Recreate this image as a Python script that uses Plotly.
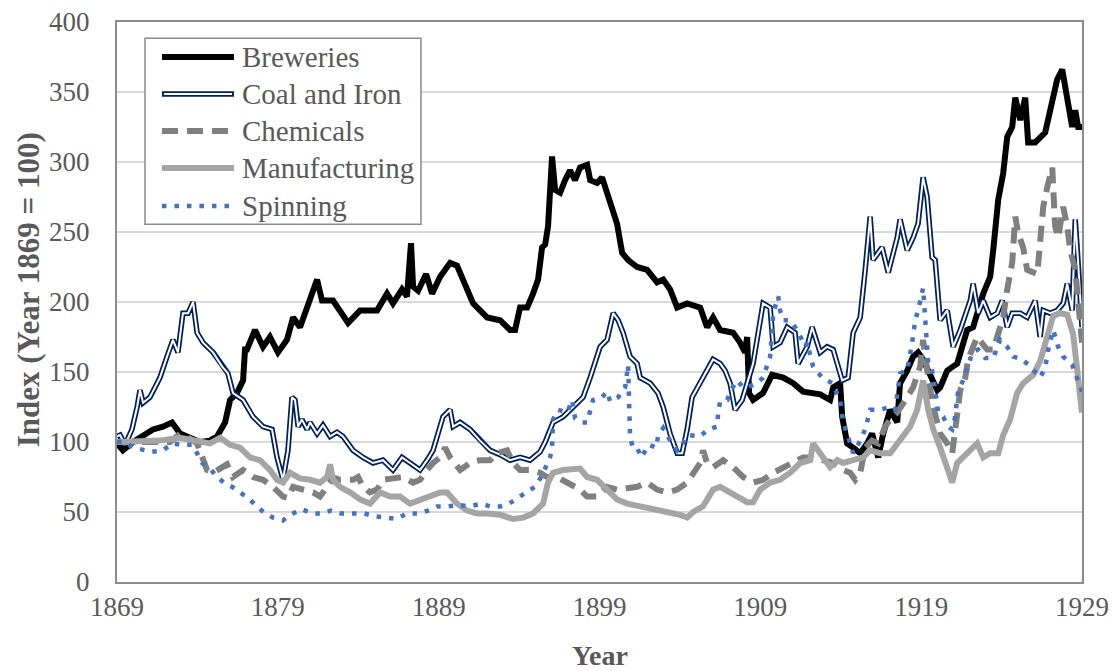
import plotly.graph_objects as go

# ---------------- data ----------------
series_names = ["Breweries", "Coal and Iron", "Chemicals", "Manufacturing", "Spinning"]

brew_years = [1869.00,1869.37,1870.00,1870.62,1871.24,1871.86,1872.42,1872.92,1873.54,1874.16,
              1874.78,1875.22,1875.72,1876.03,1876.46,1876.84,1876.96,1877.08,1877.58,1878.08,
              1878.51,1879.01,1879.57,1879.95,1880.38,1880.82,1881.44,1881.75,1882.43,1883.37,
              1884.11,1885.17,1885.79,1886.16,1886.72,1887.03,1887.28,1887.41,1887.72,1888.22,
              1888.59,1889.09,1889.71,1890.14,1890.77,1891.14,1892.01,1892.82,1893.44,1893.75,
              1894.06,1894.50,1894.87,1895.18,1895.43,1895.62,1895.80,1896.05,1896.24,1896.55,
              1896.86,1897.17,1897.48,1897.79,1898.23,1898.42,1898.85,1899.16,1899.47,1899.78,
              1900.09,1900.41,1900.78,1901.34,1901.96,1902.58,1902.96,1903.39,1903.83,1904.45,
              1905.26,1905.69,1906.06,1906.50,1907.31,1907.74,1908.05,1908.18,1908.30,1908.55,
              1909.17,1909.73,1910.42,1911.04,1911.66,1912.72,1913.34,1913.53,1913.96,1914.09,
              1914.40,1914.77,1915.21,1915.64,1915.95,1916.33,1916.64,1917.07,1917.51,1917.69,
              1918.13,1918.50,1918.81,1919.12,1919.44,1919.75,1920.00,1920.18,1920.62,1920.99,
              1921.24,1921.86,1922.23,1922.86,1923.29,1923.48,1923.79,1924.10,1924.35,1924.66,
              1924.85,1925.16,1925.47,1925.65,1926.09,1926.71,1927.15,1927.46,1927.77,1928.14,
              1928.39,1928.58,1928.76,1929.00]
brew_vals = [99,94,100,105,109,111,114,106,103,100,
             101,104,114,130,135,144,166,166,180,168,
             175,164,173,189,182,196,216,201,201,185,
             194,194,206,199,209,204,242,211,208,220,
             206,218,228,226,208,199,189,187,180,180,
             196,196,206,216,239,241,254,304,280,278,
             287,294,287,296,298,287,285,289,278,266,
             256,235,230,225,223,214,216,209,196,199,
             196,182,189,180,178,171,164,175,135,130,
             135,148,146,142,136,134,130,139,142,118,
             99,96,92,99,106,89,106,123,114,142,
             151,161,164,159,151,144,137,139,151,154,
             156,180,182,206,218,237,273,292,318,325,
             346,330,346,314,314,321,344,359,366,344,
             325,337,325,325]

coal_years = [1869.00,1869.19,1869.50,1869.93,1870.25,1870.43,1870.62,1871.05,1871.36,1871.67,
              1872.11,1872.48,1872.79,1873.10,1873.42,1873.73,1873.98,1874.35,1874.97,1875.53,
              1875.90,1876.21,1876.84,1877.46,1878.08,1878.64,1878.95,1879.32,1879.63,1879.88,
              1880.07,1880.26,1880.50,1880.82,1881.00,1881.44,1881.81,1882.25,1882.68,1883.05,
              1883.68,1884.30,1884.92,1885.54,1886.16,1886.72,1887.22,1887.84,1888.28,1888.65,
              1889.27,1889.71,1889.90,1890.33,1890.95,1891.57,1892.20,1892.82,1893.44,1894.06,
              1894.68,1895.31,1895.62,1896.11,1896.74,1897.36,1897.98,1898.42,1898.85,1899.04,
              1899.47,1899.85,1900.16,1900.47,1900.90,1901.34,1901.53,1902.15,1902.64,1902.96,
              1903.39,1903.83,1904.14,1904.45,1904.76,1905.26,1905.69,1906.06,1906.50,1906.81,
              1907.12,1907.43,1907.87,1908.18,1908.55,1909.17,1909.61,1909.80,1910.23,1910.67,
              1911.16,1911.35,1911.91,1912.22,1912.72,1913.15,1913.53,1914.09,1914.46,1914.77,
              1915.21,1915.52,1915.83,1916.01,1916.57,1916.95,1917.51,1917.69,1918.13,1918.50,
              1918.81,1919.12,1919.37,1919.68,1919.87,1920.18,1920.62,1920.99,1921.43,1922.05,
              1922.23,1922.55,1922.86,1923.29,1923.73,1924.04,1924.35,1924.66,1925.16,1925.59,
              1926.09,1926.40,1926.59,1927.02,1927.46,1927.83,1928.08,1928.39,1928.58,1928.76,
              1929.00]
coal_vals = [104,105,98,109,125,137,128,132,139,146,
             161,173,164,192,192,200,178,171,164,154,
             149,135,130,118,111,109,89,73,94,132,
             130,111,116,109,114,106,112,104,107,104,
             94,89,85,87,80,89,85,80,87,94,
             118,123,111,114,109,101,94,91,87,89,
             87,93,100,114,118,125,132,146,161,168,
             173,192,187,178,161,156,146,142,135,125,
             106,92,92,109,132,142,151,159,156,151,
             142,123,130,142,156,199,196,168,171,182,
             178,156,168,182,164,168,166,144,146,178,
             189,223,261,230,239,221,246,259,237,246,
             256,289,275,232,230,187,194,168,180,201,
             213,192,201,189,192,201,182,192,192,189,
             201,175,194,192,194,199,213,194,259,228,
             182]

chem_years = [1869.00,1870.43,1871.67,1872.30,1872.92,1873.35,1873.98,1874.35,1874.60,1874.97,
              1875.84,1876.21,1876.84,1877.46,1878.08,1878.70,1879.32,1879.63,1879.95,1880.57,
              1881.19,1881.62,1882.25,1882.37,1882.87,1883.68,1883.99,1884.30,1884.73,1885.17,
              1885.54,1886.16,1886.79,1887.41,1887.84,1888.28,1888.65,1889.09,1889.40,1889.71,
              1890.33,1890.95,1891.57,1892.20,1892.63,1893.25,1893.63,1894.06,1894.68,1895.31,
              1895.74,1896.36,1896.99,1897.79,1898.23,1898.85,1899.47,1900.09,1900.72,1901.34,
              1901.96,1902.58,1903.20,1903.83,1904.45,1904.82,1905.26,1905.44,1905.69,1906.06,
              1906.69,1907.31,1907.93,1908.55,1909.17,1909.80,1910.42,1911.04,1911.66,1912.28,
              1912.91,1913.53,1914.15,1914.58,1914.90,1915.21,1915.52,1915.95,1916.33,1916.76,
              1917.07,1917.51,1918.13,1918.50,1918.94,1919.12,1919.44,1919.75,1920.18,1920.62,
              1920.93,1921.11,1921.43,1921.74,1921.92,1922.48,1923.10,1923.48,1924.10,1924.35,
              1924.66,1924.85,1925.03,1925.34,1925.59,1926.22,1926.40,1926.59,1926.84,1927.15,
              1927.21,1927.33,1927.52,1927.83,1928.08,1928.27,1928.58,1928.89,1929.00]
chem_vals = [100,100,101,100,106,104,99,89,80,78,
             84,75,80,75,73,68,61,60,68,66,
             64,61,71,75,73,73,75,68,64,66,
             73,74,75,71,73,80,85,89,96,89,
             80,85,87,87,92,94,85,80,80,78,
             75,75,71,66,61,61,68,66,67,68,
             71,66,64,66,71,78,85,94,85,82,
             87,82,75,71,73,78,82,85,89,89,
             87,85,80,78,73,78,96,101,99,111,
             116,121,132,139,154,173,146,125,106,99,
             92,109,137,146,159,175,166,166,189,209,
             228,261,249,239,223,220,239,268,282,296,
             282,254,246,268,254,237,223,190,171]

manu_years = [1869.00,1870.43,1871.67,1872.92,1874.16,1874.78,1875.41,1876.03,1876.65,1877.27,
              1877.89,1878.51,1878.95,1879.32,1879.76,1880.38,1881.00,1881.62,1882.06,1882.25,
              1882.43,1882.87,1883.49,1884.11,1884.73,1885.36,1885.98,1886.60,1887.22,1887.84,
              1888.47,1889.09,1889.52,1890.14,1890.77,1891.39,1892.01,1892.82,1893.63,1894.25,
              1894.87,1895.31,1895.49,1895.80,1896.11,1896.74,1897.36,1897.79,1898.23,1898.85,
              1899.47,1900.09,1900.72,1901.53,1902.15,1902.77,1903.39,1904.01,1904.45,1904.82,
              1905.44,1906.06,1906.50,1907.12,1907.74,1908.18,1908.55,1908.99,1909.61,1910.23,
              1910.85,1911.48,1912.10,1912.28,1912.72,1913.34,1913.78,1914.15,1914.77,1915.39,
              1915.83,1916.45,1917.07,1917.69,1918.32,1918.75,1919.12,1919.44,1919.75,1920.18,
              1920.62,1920.93,1921.24,1921.61,1922.05,1922.48,1922.86,1923.29,1923.79,1924.10,
              1924.53,1924.97,1925.34,1925.97,1926.40,1926.84,1927.21,1927.64,1928.08,1928.45,
              1928.76,1929.00]
manu_vals = [100,100,101,103,101,99,103,98,96,89,
             87,80,73,71,78,74,73,71,75,84,
             73,68,64,59,56,64,61,61,56,59,
             61,64,64,56,51,49,49,48,45,46,
             49,54,56,71,78,80,80,81,75,73,
             66,59,56,54,53,51,49,48,46,50,
             54,66,68,64,61,57,57,66,71,73,
             78,85,87,99,92,82,87,85,87,89,
             94,92,92,101,111,123,144,123,109,96,
             82,71,85,89,94,99,89,92,92,105,
             116,135,142,148,158,176,190,192,191,177,
             148,121]

spin_years = [1869.00,1869.50,1870.00,1870.62,1871.18,1871.86,1872.42,1873.04,1873.66,1873.98,
              1874.29,1874.78,1875.22,1875.65,1876.15,1876.65,1877.15,1877.71,1878.20,1878.70,
              1879.32,1879.76,1880.50,1881.13,1881.75,1882.31,1882.93,1883.68,1884.36,1884.98,
              1885.73,1886.41,1887.03,1887.72,1888.34,1888.90,1889.58,1890.21,1890.95,1891.64,
              1892.20,1892.82,1893.38,1893.94,1894.50,1894.99,1895.37,1895.62,1895.93,1896.05,
              1896.08,1896.11,1896.42,1896.99,1897.30,1897.48,1897.92,1898.23,1898.60,1899.16,
              1899.47,1899.66,1900.16,1900.59,1900.78,1900.84,1900.90,1901.09,1901.34,1901.59,
              1901.84,1902.08,1902.52,1902.64,1902.96,1903.39,1903.83,1904.14,1904.51,1905.26,
              1905.75,1906.31,1906.38,1906.50,1906.94,1907.12,1907.56,1907.93,1908.18,1908.80,
              1909.17,1909.42,1909.61,1909.73,1909.80,1910.11,1910.23,1910.42,1910.85,1911.29,
              1911.48,1911.79,1911.91,1912.28,1912.84,1913.47,1913.96,1914.15,1914.40,1914.77,
              1915.08,1915.52,1915.83,1916.45,1917.07,1917.38,1917.69,1918.13,1918.44,1918.63,
              1918.81,1919.12,1919.44,1919.68,1919.87,1920.06,1920.37,1920.68,1920.93,1921.11,
              1921.30,1921.61,1921.92,1922.17,1922.55,1922.98,1923.48,1923.91,1924.35,1924.72,
              1925.28,1925.78,1926.40,1926.71,1926.90,1927.21,1927.52,1927.83,1928.39,1928.70,
              1928.89,1929.00]
spin_vals = [100,100,96,94,93,94,99,98,98,92,
             85,81,75,71,68,64,60,54,49,46,
             44,48,52,49,49,51,49,49,49,47,
             46,45,49,49,51,54,54,55,54,56,
             54,54,56,60,64,68,75,81,89,96,
             106,116,123,121,130,117,114,114,130,132,
             136,129,132,139,155,128,103,96,96,89,
             93,98,96,104,110,101,94,98,105,104,
             109,111,121,129,130,136,144,139,139,142,
             146,154,161,180,192,204,194,187,187,180,
             175,168,171,154,146,142,130,114,106,92,
             98,109,123,123,125,123,149,151,171,187,
             194,210,156,151,137,121,118,111,109,118,
             137,144,154,164,166,160,160,173,168,161,
             159,154,146,153,166,180,168,161,155,146,
             139,136]

x_ticks = [1869, 1879, 1889, 1899, 1909, 1919, 1929]
y_ticks = [0, 50, 100, 150, 200, 250, 300, 350, 400]

# ---------------- styling ----------------
FONT = "Liberation Serif, Times New Roman, serif"
TXT = "#595959"
NAVY = "#002060"
CHEM = "#808080"
MANU = "#A5A5A5"
SPIN = "#4472C4"

styles = {
    "Breweries": dict(color="#000000", width=6),
    "Coal and Iron": dict(color=NAVY, width=5.5),
    "Chemicals": dict(color=CHEM, width=6, dash="16px,9px"),
    "Manufacturing": dict(color=MANU, width=6),
    "Spinning": dict(color=SPIN, width=4.5, dash="4.5px,8px"),
}

fig = go.Figure()
fig.add_trace(go.Scatter(x=brew_years, y=brew_vals, mode="lines", name=series_names[0],
                         line=styles["Breweries"], showlegend=False))
fig.add_trace(go.Scatter(x=coal_years, y=coal_vals, mode="lines", name=series_names[1],
                         line=styles["Coal and Iron"], showlegend=False))
fig.add_trace(go.Scatter(x=coal_years, y=coal_vals, mode="lines", name=series_names[1] + " (inner)",
                         line=dict(color="#FFFFFF", width=2), showlegend=False, hoverinfo="skip"))
fig.add_trace(go.Scatter(x=chem_years, y=chem_vals, mode="lines", name=series_names[2],
                         line=styles["Chemicals"], showlegend=False))
fig.add_trace(go.Scatter(x=manu_years, y=manu_vals, mode="lines", name=series_names[3],
                         line=styles["Manufacturing"], showlegend=False))
fig.add_trace(go.Scatter(x=spin_years, y=spin_vals, mode="lines", name=series_names[4],
                         line=styles["Spinning"], showlegend=False))

# ---------------- custom legend (box, samples, labels) ----------------
shapes = [dict(type="rect", xref="paper", yref="paper", x0=0.029, x1=0.315, y0=0.639, y1=0.971,
               line=dict(color="#8C8C8C", width=1.5), fillcolor="#FFFFFF", layer="above")]
annotations = []
row_y = [0.9375, 0.8714, 0.8054, 0.7393, 0.6714]
sx0, sx1 = 0.0466, 0.1212
for name, yy in zip(series_names, row_y):
    shapes.append(dict(type="line", xref="paper", yref="paper", x0=sx0, x1=sx1, y0=yy, y1=yy,
                       line=styles[name], layer="above"))
    if name == "Coal and Iron":
        shapes.append(dict(type="line", xref="paper", yref="paper", x0=sx0 + 0.002, x1=sx1 - 0.002,
                           y0=yy, y1=yy, line=dict(color="#FFFFFF", width=2), layer="above"))
    annotations.append(dict(xref="paper", yref="paper", x=0.1275, y=yy, xanchor="left", yanchor="middle",
                            text=name, showarrow=False, font=dict(family=FONT, size=29, color=TXT)))

# axis titles
annotations.append(dict(xref="paper", yref="paper", x=0.5, y=-0.132, xanchor="center", yanchor="middle",
                        text="<b>Year</b>", showarrow=False, font=dict(family=FONT, size=28, color=TXT)))
annotations.append(dict(xref="paper", yref="paper", x=-0.0922, y=0.521, xanchor="center", yanchor="middle",
                        text="<b>Index (Year 1869 = 100)</b>", textangle=-90, showarrow=False,
                        font=dict(family=FONT, size=31, color=TXT)))

fig.update_layout(
    width=1112, height=671,
    margin=dict(l=117, r=30, t=22, b=89),
    paper_bgcolor="#FFFFFF", plot_bgcolor="#FFFFFF",
    font=dict(family=FONT, size=27, color=TXT),
    showlegend=False,
    hovermode=False,
    shapes=shapes,
    annotations=annotations,
    xaxis=dict(range=[1869, 1929], tickvals=x_ticks, ticktext=[str(v) for v in x_ticks],
               showgrid=False, zeroline=False, showline=True, linecolor="#8C8C8C", linewidth=2,
               mirror=True, ticks="", ticklabeloverflow="allow",
               tickfont=dict(family=FONT, size=27, color=TXT), automargin=False),
    yaxis=dict(range=[0, 400], tickvals=y_ticks, showgrid=True, gridcolor="#D9D9D9", gridwidth=1.5,
               zeroline=False, showline=True, linecolor="#8C8C8C", linewidth=2, mirror=True,
               ticks="outside", ticklen=20, tickcolor="rgba(0,0,0,0)", ticklabeloverflow="allow",
               tickfont=dict(family=FONT, size=27, color=TXT), automargin=False),
)

# remove the browser's default page margin so the 1112x671 figure fills the window exactly
fig.write_html("out.html",
               config={"displayModeBar": False},
               post_script="document.body.style.margin='0';"
                           "document.documentElement.style.overflow='hidden';")
